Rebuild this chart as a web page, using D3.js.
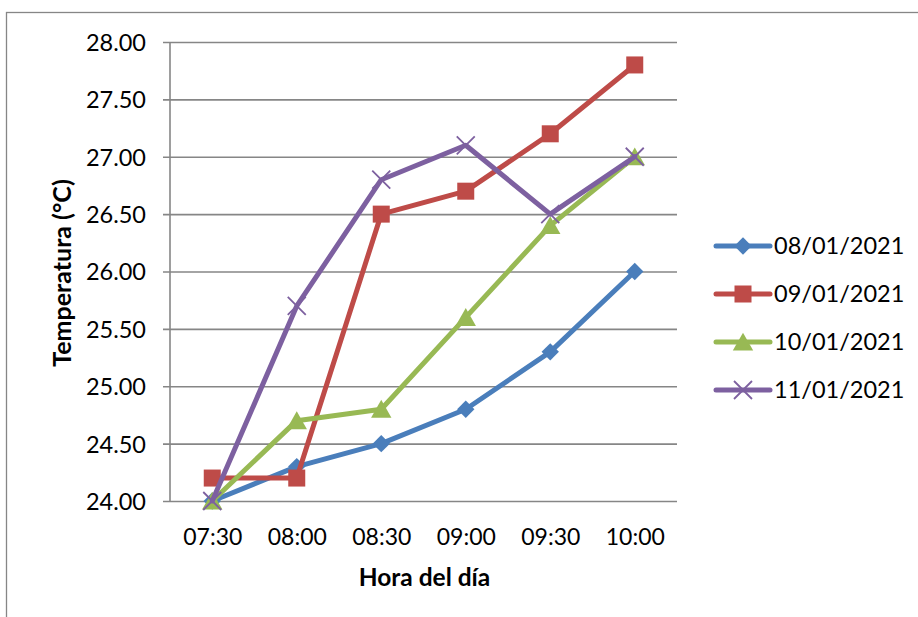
<!DOCTYPE html>
<html>
<head>
<meta charset="utf-8">
<script src="https://cdn.jsdelivr.net/npm/d3@7"></script>
<style>
  html, body { margin: 0; padding: 0; background: #fff; }
  svg text { font-family: Lato, "Open Sans", "Noto Sans", sans-serif; fill: #000; }
</style>
</head>
<body>
<svg id="chart" width="918" height="617"></svg>
<script>
// Hourly temperature readings for four days
const horas = ["07:30", "08:00", "08:30", "09:00", "09:30", "10:00"];
const fechas = ["08/01/2021", "09/01/2021", "10/01/2021", "11/01/2021"];
const temp0801 = [24.00, 24.30, 24.50, 24.80, 25.30, 26.00];
const temp0901 = [24.20, 24.20, 26.50, 26.70, 27.20, 27.80];
const temp1001 = [24.00, 24.70, 24.80, 25.60, 26.40, 27.00];
const temp1101 = [24.00, 25.70, 26.80, 27.10, 26.50, 27.00];
const yTicks = [24.00, 24.50, 25.00, 25.50, 26.00, 26.50, 27.00, 27.50, 28.00];

const colores = ["#4A7EBB", "#BE4B48", "#98B954", "#7D60A0"];
const marcadores = ["diamond", "square", "triangle", "cross"];

const series = [temp0801, temp0901, temp1001, temp1101].map((v, i) => ({
  name: fechas[i], values: v, color: colores[i], marker: marcadores[i]
}));

const svg = d3.select("#chart");
const plot = { left: 170, right: 677, top: 42, bottom: 501 };

// outer chart frame
svg.append("rect")
  .attr("x", 6.5).attr("y", 12.5)
  .attr("width", 930).attr("height", 620)
  .attr("fill", "none").attr("stroke", "#868686").attr("stroke-width", 1.3);

const x = d3.scalePoint().domain(horas)
  .range([plot.left, plot.right]).padding(0.5);
const y = d3.scaleLinear().domain([24, 28]).range([plot.bottom, plot.top]);

// horizontal gridlines with short outside ticks
const yAxis = d3.axisLeft(y).tickValues(yTicks)
  .tickFormat(d3.format(".2f"))
  .tickSize(-(plot.right - plot.left)).tickPadding(0);
const gy = svg.append("g").attr("transform", `translate(${plot.left},0)`).call(yAxis);
gy.select(".domain").remove();
gy.selectAll(".tick line")
  .attr("x1", -7)
  .attr("stroke", "#868686").attr("stroke-width", 1.6);
gy.selectAll(".tick text")
  .attr("x", -24).attr("dy", "0.36em")
  .style("font-size", "23.5px");

// vertical axis line
svg.append("line")
  .attr("x1", plot.left).attr("x2", plot.left)
  .attr("y1", plot.top).attr("y2", plot.bottom)
  .attr("stroke", "#868686").attr("stroke-width", 1.6);

// category labels
const xAxis = d3.axisBottom(x).tickSize(0).tickPadding(0);
const gx = svg.append("g").attr("transform", `translate(0,${plot.bottom})`).call(xAxis);
gx.select(".domain").remove();
gx.selectAll(".tick text")
  .attr("y", 44).attr("dy", "0")
  .style("font-size", "23px");

// axis titles
svg.append("text")
  .attr("x", (plot.left + plot.right) / 2 + 1).attr("y", 586)
  .attr("text-anchor", "middle")
  .style("font-size", "24.5px").style("font-weight", "bold")
  .text("Hora del día");
svg.append("text")
  .attr("transform", "translate(71,273) rotate(-90)")
  .attr("text-anchor", "middle")
  .style("font-size", "25px").style("font-weight", "bold")
  .text("Temperatura (°C)");

const line = d3.line().x((d, i) => x(horas[i])).y(d => y(d));

function drawMarker(g, type, color, size) {
  if (type === "diamond") {
    g.append("path").attr("d", d3.symbol(d3.symbolDiamond2, size * size * 0.75)())
      .attr("fill", color);
  } else if (type === "square") {
    g.append("rect").attr("x", -size / 2).attr("y", -size / 2)
      .attr("width", size).attr("height", size).attr("fill", color);
  } else if (type === "triangle") {
    g.append("path").attr("d", `M0,${-size * 0.55}L${size * 0.6},${size * 0.5}L${-size * 0.6},${size * 0.5}Z`)
      .attr("fill", color);
  } else if (type === "cross") {
    const h = size / 2;
    g.append("path").attr("d", `M${-h},${-h}L${h},${h}M${-h},${h}L${h},${-h}`)
      .attr("stroke", color).attr("stroke-width", 1.8).attr("fill", "none");
  }
}

const msize = { diamond: 16, square: 17, triangle: 17, cross: 18 };

series.forEach(s => {
  svg.append("path")
    .datum(s.values)
    .attr("d", line)
    .attr("fill", "none")
    .attr("stroke", s.color)
    .attr("stroke-width", 5)
    .attr("stroke-linejoin", "round")
    .attr("stroke-linecap", "round");
  s.values.forEach((v, i) => {
    const g = svg.append("g").attr("transform", `translate(${x(horas[i])},${y(v)})`);
    drawMarker(g, s.marker, s.color, msize[s.marker]);
  });
});

// legend
const legend = svg.append("g").attr("transform", "translate(716,246)");
series.forEach((s, i) => {
  const g = legend.append("g").attr("transform", `translate(0,${i * 48})`);
  g.append("line").attr("x1", 0).attr("x2", 54).attr("y1", 0).attr("y2", 0)
    .attr("stroke", s.color).attr("stroke-width", 5).attr("stroke-linecap", "round");
  const m = g.append("g").attr("transform", "translate(27,0)");
  drawMarker(m, s.marker, s.color, msize[s.marker]);
  g.append("text").attr("x", 58).attr("y", 0).attr("dy", "0.36em")
    .style("font-size", "23.5px").text(s.name);
});
</script>
</body>
</html>
